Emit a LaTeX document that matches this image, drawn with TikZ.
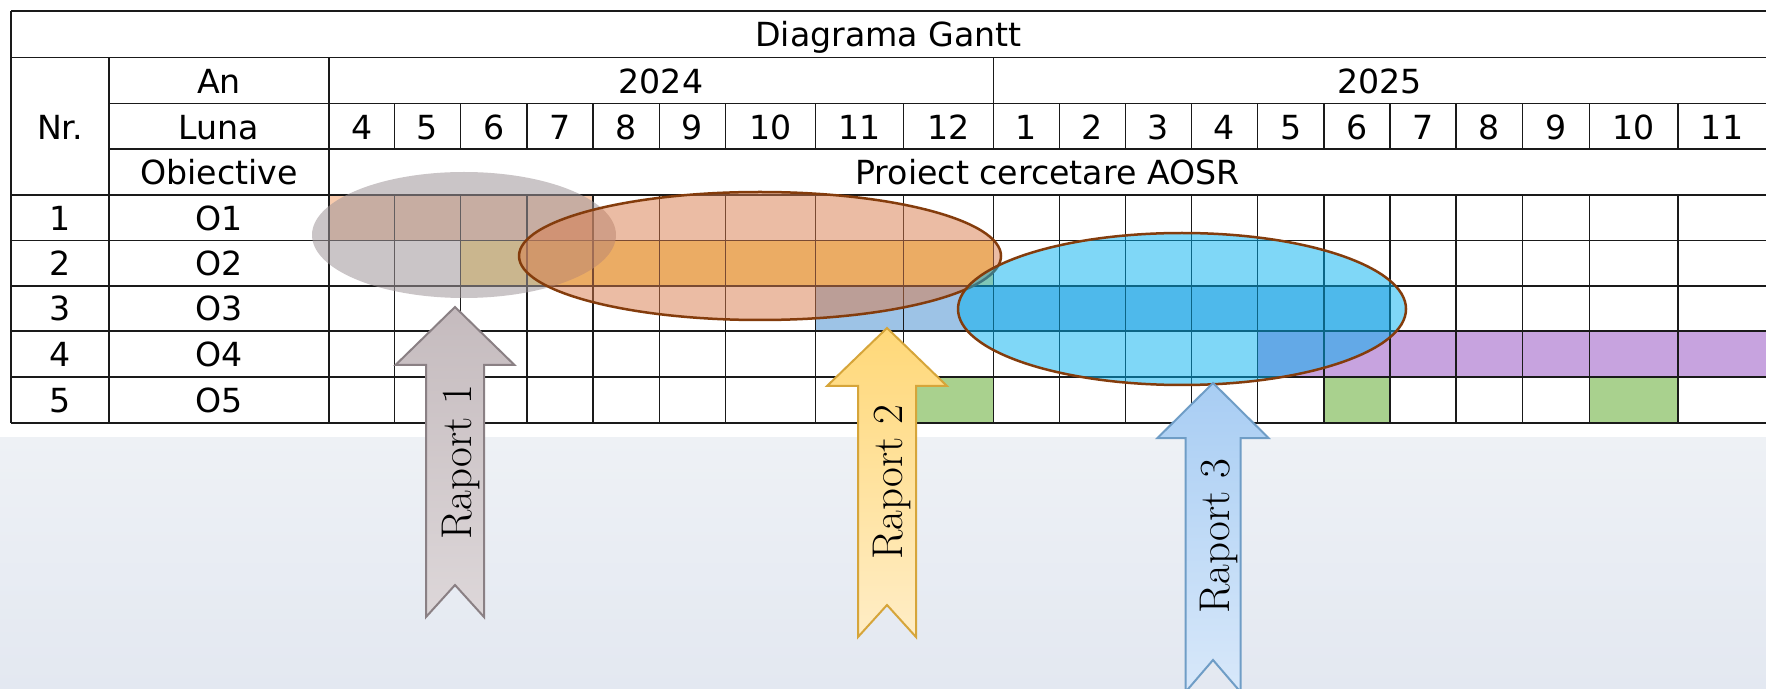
\documentclass[tikz,border=0pt]{standalone}
\usepackage{fontspec}
\newfontfamily\tabfont{DejaVu Sans}
\definecolor{gridc}{HTML}{1A1A1A}
\definecolor{bgtop}{HTML}{EEF1F5}
\definecolor{bgbot}{HTML}{E3E8F1}
\definecolor{barone}{HTML}{F8CBAD}
\definecolor{bartwo}{HTML}{FFDF80}
\definecolor{barthree}{HTML}{9DC3E6}
\definecolor{barfour}{HTML}{C7A3DF}
\definecolor{barfive}{HTML}{A9D18E}
\definecolor{ellgray}{HTML}{A0969A}
\definecolor{ellorange}{HTML}{D97B4A}
\definecolor{ellblue}{HTML}{00B0F0}
\definecolor{ellline}{HTML}{843C0C}
\definecolor{aonedraw}{HTML}{8A8084}
\definecolor{aonetop}{HTML}{C5BBBE}
\definecolor{aonebot}{HTML}{DDD7D9}
\definecolor{atwodraw}{HTML}{D6A53A}
\definecolor{atwotop}{HTML}{FFD878}
\definecolor{atwobot}{HTML}{FFEDC6}
\definecolor{athreedraw}{HTML}{6F9DC6}
\definecolor{athreetop}{HTML}{A8CDF3}
\definecolor{athreebot}{HTML}{D8E8FA}
\tikzset{
  gridline/.style={draw=gridc, line width=0.9pt},
  celltext/.style={font=\tabfont\fontsize{16.6}{20}\selectfont, anchor=base, inner sep=0pt},
  raptext/.style={rotate=90, font=\fontsize{21.5}{26}\selectfont, inner sep=0pt},
  arrowshape/.style={line width=1pt, line join=miter},
  ellipsefill/.style={fill opacity=0.5, draw opacity=1, line width=1.25pt, draw=ellline}
}
\begin{document}
\begin{tikzpicture}[x=0.5pt,y=-0.5pt]
\useasboundingbox (0,0) rectangle (1766,689);
\fill[white] (0,0) rectangle (1766,689);
\shade[top color=bgtop, bottom color=bgbot] (0,437) rectangle (1766,689);

% bars
\fill[fill=barone] (329,195) rectangle (593,240.5);
\fill[fill=bartwo] (460.5,240.5) rectangle (993.5,286);
\fill[fill=barthree] (815.5,286) rectangle (1390,331);
\fill[fill=barfour] (1257.5,331) rectangle (1766,377);
\fill[fill=barfive] (903.5,377) rectangle (993.5,423);
\fill[fill=barfive] (1324,377) rectangle (1390,423);
\fill[fill=barfive] (1589.5,377) rectangle (1678,423);

% grid
\draw[gridline, line width=1.2pt] (11,11) -- (1766,11);
\foreach \yy in {57.5,195,240.5,286,331,377,423}
  \draw[gridline] (11,\yy) -- (1766,\yy);
\foreach \yy in {103.5,149}
  \draw[gridline] (109,\yy) -- (1766,\yy);
\draw[gridline] (11,11) -- (11,423);
\draw[gridline] (109,57.5) -- (109,423);
\draw[gridline] (329,57.5) -- (329,423);
\draw[gridline] (993.5,57.5) -- (993.5,103.5);
\foreach \xx in {394.5,460.5,527,593,659.5,725.5,815.5,903.5,993.5,1059.5,1125.5,1191.5,1257.5,1324,1390,1456,1522.5,1589.5,1678}{
  \draw[gridline] (\xx,103.5) -- (\xx,149);
  \draw[gridline] (\xx,195) -- (\xx,423);
}

% header texts
\node[celltext] (title) at (888.5,47) {Diagrama Gantt};
\node[celltext] (nr) at (60,140) {Nr.};
\node[celltext] (an) at (219,94) {An};
\node[celltext] (luna) at (219,140) {Luna};
\node[celltext] (obj) at (219,185) {Obiective};
\node[celltext] (y2024) at (661,94) {2024};
\node[celltext] (y2025) at (1379.5,94) {2025};
\node[celltext] (proj) at (1047.5,185) {Proiect cercetare AOSR};
\foreach \a/\b/\m [count=\i] in {329/394.5/4,394.5/460.5/5,460.5/527/6,527/593/7,593/659.5/8,659.5/725.5/9,725.5/815.5/10,815.5/903.5/11,903.5/993.5/12,993.5/1059.5/1,1059.5/1125.5/2,1125.5/1191.5/3,1191.5/1257.5/4,1257.5/1324/5,1324/1390/6,1390/1456/7,1456/1522.5/8,1522.5/1589.5/9,1589.5/1678/10,1678/1766/11}
  \node[celltext] (m\i) at ({(\a+\b)/2},140) {\m};
\foreach \i/\yy in {1/231,2/276,3/321,4/367,5/413}{
  \node[celltext] (n\i) at (60,\yy) {\i};
  \node[celltext] (o\i) at (219,\yy) {O\i};
}

% ellipses
\path[fill=ellgray, fill opacity=0.55] (464,235) ellipse [x radius=76pt, y radius=31.5pt];
\path[ellipsefill, fill=ellorange] (760,256) ellipse [x radius=120.5pt, y radius=32pt];
\path[ellipsefill, fill=ellblue] (1182,309) ellipse [x radius=112pt, y radius=38pt];

% arrows
\draw[arrowshape, draw=aonedraw, top color=aonetop, bottom color=aonebot]
  (455,307) -- (514.5,365) -- (484,365) -- (484,617) -- (455,585) -- (426,617) -- (426,365) -- (395.5,365) -- cycle;
\node[raptext] (r1) at (461,462) {Raport 1};

\draw[arrowshape, draw=atwodraw, top color=atwotop, bottom color=atwobot]
  (887,328) -- (947,386) -- (916,386) -- (916,637) -- (887,605) -- (858,637) -- (858,386) -- (827,386) -- cycle;
\node[raptext] (r2) at (892,482) {Raport 2};

\draw[arrowshape, draw=athreedraw, top color=athreetop, bottom color=athreebot]
  (1213,383) -- (1268.5,438) -- (1240.5,438) -- (1240.5,692) -- (1213,660) -- (1185.5,692) -- (1185.5,438) -- (1157.5,438) -- cycle;
\node[raptext] (r3) at (1219,536) {Raport 3};
\end{tikzpicture}
\end{document}
